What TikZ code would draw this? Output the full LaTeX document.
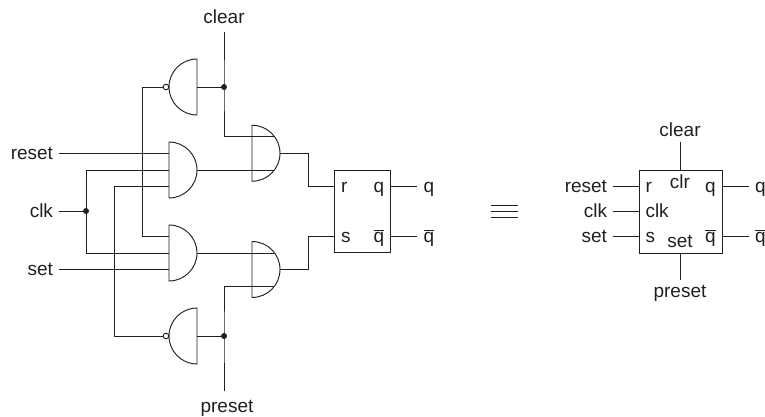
\documentclass[tikz,border=0pt]{standalone}
\usepackage{fontspec}
\setmainfont{Liberation Sans}
\definecolor{ink}{HTML}{231F20}
\newcommand{\qbar}{$\overline{\hbox{q}}$}
\tikzset{
  x=1pt,y=-1pt,
  wire/.style={draw=ink,line width=0.95pt},
  lbl/.style={text=ink,font=\fontsize{19}{21}\selectfont,inner sep=0pt,outer sep=0pt},
  lw/.style={lbl,anchor=base west},
  le/.style={lbl,anchor=base east},
  lc/.style={lbl,anchor=base},
  jdot/.style={circle,fill=ink,inner sep=0pt,minimum size=6pt},
  andgate/.pic={
    \draw[wire] (0,-28) -- (0,28) .. controls (15.46,28) and (28,15.46) .. (28,0) .. controls (28,-15.46) and (15.46,-28) .. (0,-28) -- cycle;
    \coordinate (-a) at (0,-16.5);
    \coordinate (-b) at (0,0);
    \coordinate (-c) at (0,16.5);
    \coordinate (-o) at (28,0);
  },
  nandgate/.pic={
    \draw[wire] (0,-28) -- (0,28) .. controls (-15.46,28) and (-28,15.46) .. (-28,0) .. controls (-28,-15.46) and (-15.46,-28) .. (0,-28) -- cycle;
    \draw[wire,fill=white] (-31,0) circle[radius=2.8pt];
    \coordinate (-i) at (-33.8,0);
    \coordinate (-o) at (0,0);
  },
  orgate/.pic={
    \draw[wire] (0,-28) -- (0,28) .. controls (15.46,28) and (28,15.46) .. (28,0) .. controls (28,-15.46) and (15.46,-28) .. (0,-28) -- cycle;
    \coordinate (-ai) at (22,-16.5);
    \coordinate (-bi) at (22,16.5);
    \coordinate (-o) at (28,0);
  }
}
\begin{document}
\begin{tikzpicture}
\useasboundingbox (0,0) rectangle (765,417);
% gates
\pic (nt) at (197,87) {nandgate};
\pic (nb) at (197,336) {nandgate};
\pic (at) at (169,170) {andgate};
\pic (ab) at (169,253) {andgate};
\pic (ot) at (252,153.25) {orgate};
\pic (ob) at (252,269.5) {orgate};
% labels, left circuit
\node[lc] (clearA) at (224,24) {clear};
\node[lc] (presetA) at (227,412) {preset};
\node[le] (resetA) at (53,159) {reset};
\node[le] (clkA) at (53,217) {clk};
\node[le] (setA) at (53,275) {set};
% named wire ends
\coordinate (clearEnd) at (224,32);
\coordinate (presetEnd) at (224,391);
\coordinate (resetEnd) at (59,153.5);
\coordinate (clkEnd) at (59,211);
\coordinate (setEnd) at (59,269.5);
\coordinate (clearTurn) at (224,136.5);
\coordinate (presetTurn) at (224,286);
\node[jdot] (jclear) at (224,87) {};
\node[jdot] (jpreset) at (224,336) {};
\node[jdot] (jclk) at (86,211) {};
% flip-flop
\node[wire,draw,minimum width=55.5pt,minimum height=82.5pt,inner sep=0pt,outer sep=0pt] (ff) at (362.25,211.25) {};
\coordinate (ffr) at (334.5,186);
\coordinate (ffs) at (334.5,236);
\coordinate (ffq) at (390,186);
\coordinate (ffn) at (390,236);
\coordinate (ffqe) at (417,186);
\coordinate (ffne) at (417,236);
\node[lw] (lr) at (341,192) {r};
\node[lw] (ls) at (341,242) {s};
\node[lw] (lq) at (373.5,192) {q};
\node[lw] (lqn) at (373.5,242) {\qbar};
\node[lw] (oq) at (423.5,192) {q};
\node[lw] (oqn) at (423.5,242) {\qbar};
% wires, left circuit
\draw[wire] (clearEnd) -- (jclear.center) -- (clearTurn) -- (clearTurn -| ot-ai);
\draw[wire] (nt-o) -- (jclear.center);
\draw[wire] (presetEnd) -- (jpreset.center) -- (presetTurn) -- (presetTurn -| ob-bi);
\draw[wire] (nb-o) -- (jpreset.center);
\draw[wire] (resetEnd) -- (at-a);
\draw[wire] (setEnd) -- (ab-c);
\draw[wire] (clkEnd) -- (jclk.center);
\draw[wire] (jclk.center) |- (at-b);
\draw[wire] (jclk.center) |- (ab-b);
\draw[wire] (nt-i) -| (142,236.5) -- (ab-a);
\draw[wire] (nb-i) -| (114,186.5) -- (at-c);
\draw[wire] (at-o) -- (at-o -| ot-bi);
\draw[wire] (ab-o) -- (ab-o -| ob-ai);
\draw[wire] (ot-o) -| (308,186) -- (ffr);
\draw[wire] (ob-o) -| (308,236) -- (ffs);
\draw[wire] (ffq) -- (ffqe);
\draw[wire] (ffn) -- (ffne);
% equivalence
\coordinate (e1a) at (491,205.5); \coordinate (e1b) at (518,205.5);
\coordinate (e2a) at (491,211.25); \coordinate (e2b) at (518,211.25);
\coordinate (e3a) at (491,217); \coordinate (e3b) at (518,217);
\draw[wire,line width=0.7pt] (e1a) -- (e1b);
\draw[wire,line width=0.7pt] (e2a) -- (e2b);
\draw[wire,line width=0.7pt] (e3a) -- (e3b);
% right symbol
\node[wire,draw,minimum width=83pt,minimum height=83pt,inner sep=0pt,outer sep=0pt] (box) at (680.5,211.5) {};
\node[lc] (clearB) at (680,136) {clear};
\node[lc] (presetB) at (680,297) {preset};
\node[le] (resetB) at (607,192) {reset};
\node[le] (clkB) at (607,217) {clk};
\node[le] (setB) at (607,242) {set};
\node[lw] (br) at (645.5,192) {r};
\node[lw] (bclk) at (645.5,217) {clk};
\node[lw] (bs) at (645.5,242) {s};
\node[lc] (bclr) at (680,188) {clr};
\node[lc] (bset) at (680,247) {set};
\node[lw] (bq) at (705,192) {q};
\node[lw] (bqn) at (705,242) {\qbar};
\node[lw] (boq) at (755,192) {q};
\node[lw] (boqn) at (755,242) {\qbar};
\coordinate (clearS) at (680,142);
\coordinate (clearT) at (680,170);
\coordinate (presetS) at (680,280);
\coordinate (presetT) at (680,253);
\coordinate (sr) at (612.5,186); \coordinate (srT) at (639,186);
\coordinate (sc) at (612.5,211); \coordinate (scT) at (639,211);
\coordinate (ss) at (612.5,236); \coordinate (ssT) at (639,236);
\coordinate (sq) at (749,186); \coordinate (sqT) at (722,186);
\coordinate (sn) at (749,236); \coordinate (snT) at (722,236);
\draw[wire] (clearS) -- (clearT);
\draw[wire] (presetS) -- (presetT);
\draw[wire] (sr) -- (srT);
\draw[wire] (sc) -- (scT);
\draw[wire] (ss) -- (ssT);
\draw[wire] (sq) -- (sqT);
\draw[wire] (sn) -- (snT);
\end{tikzpicture}
\end{document}
